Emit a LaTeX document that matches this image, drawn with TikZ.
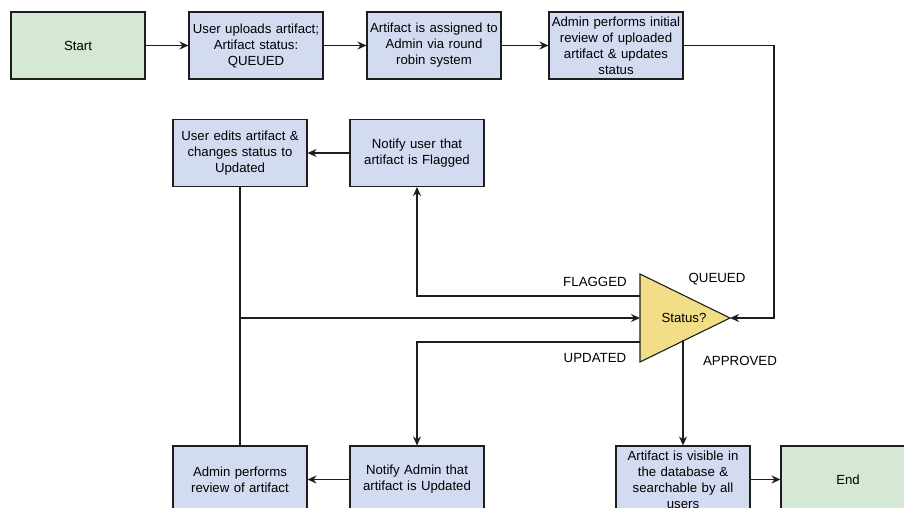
\documentclass[tikz,border=0pt]{standalone}
\usepackage{fontspec}
\setmainfont{Liberation Sans}
\usepackage{tikz}
\usetikzlibrary{positioning, arrows.meta}
\definecolor{boxBlue}{RGB}{211,219,241}
\definecolor{boxGreen}{RGB}{213,232,212}
\definecolor{decYellow}{RGB}{242,222,134}
\definecolor{lineGray}{RGB}{30,30,30}
\tikzstyle{blueRectangle} = [
    rectangle,
    draw=lineGray,
    fill=boxBlue,
    line width=1.1pt,
    text width=134pt,
    align=center,
    minimum height=67pt,
    minimum width=134pt,
    inner sep=0pt,
    font=\fontsize{13.2}{16}\selectfont
    ]
\tikzstyle{greenRectangle} = [
    blueRectangle,
    fill=boxGreen
    ]
\tikzstyle{flowArrow} = [
    draw=lineGray,
    line width=1.3pt,
    -{Stealth[length=9pt,width=8pt]}
    ]
\tikzstyle{flowLine} = [
    draw=lineGray,
    line width=1.3pt
    ]
\tikzstyle{branchLabel} = [
    font=\fontsize{13.3}{16}\selectfont
    ]

\begin{document}
\begin{tikzpicture}[x=1pt, y=-1pt]
      \useasboundingbox (0,0) rectangle (904,508);
      \clip (0,0) rectangle (904,508);
      % top row
      \node[greenRectangle] at (78,45.5) (start) {Start};
      \node[blueRectangle] at (256,45.5) (upload) {User uploads artifact;\\ Artifact status:\\ QUEUED};
      \node[blueRectangle] at (434,45.5) (assign) {Artifact is assigned to\\ Admin via round\\ robin system};
      \node[blueRectangle] at (616,45.5) (review) {Admin performs initial\\ review of uploaded\\ artifact \& updates\\ status};
      % middle row
      \node[blueRectangle] at (240,153) (edit) {User edits artifact \&\\ changes status to\\ Updated};
      \node[blueRectangle] at (417,153) (flag) {Notify user that\\ artifact is Flagged};
      % decision
      \coordinate (tTop) at (640,274);
      \coordinate (tBottom) at (640,362);
      \coordinate (tApex) at (730,318);
      \filldraw[draw=lineGray, fill=decYellow, line width=1.1pt] (tTop) -- (tApex) -- (tBottom) -- cycle;
      \node[font=\fontsize{13.2}{16}\selectfont] at (684,318) (status) {Status?};
      \coordinate (tFlag) at (640,296);
      \coordinate (tLeft) at (640,318);
      \coordinate (tUpd) at (640,342);
      \coordinate (tAppr) at (683,340);
      \coordinate (qCorner) at (774,318);
      \coordinate (join) at (240,318);
      % bottom row
      \node[blueRectangle] at (240,479.5) (areview) {Admin performs\\ review of artifact};
      \node[blueRectangle] at (417,479.5) (notify) {Notify Admin that\\ artifact is Updated};
      \node[blueRectangle] at (683,479.5) (visible) {Artifact is visible in\\ the database \&\\ searchable by all\\ users};
      \node[greenRectangle] at (848,479.5) (finish) {End};
      % connectors
      \draw[flowArrow] (start) -- (upload);
      \draw[flowArrow] (upload) -- (assign);
      \draw[flowArrow] (assign) -- (review);
      \draw[flowArrow] (review.east) -| (qCorner) -- (tApex);
      \draw[flowArrow] (tFlag) -| (flag.south);
      \draw[flowArrow] (flag) -- (edit);
      \draw[flowLine] (edit.south) -- (areview.north);
      \draw[flowArrow] (join) -- (tLeft);
      \draw[flowArrow] (tUpd) -| (notify.north);
      \draw[flowArrow] (notify) -- (areview);
      \draw[flowArrow] (tAppr) -- (visible.north);
      \draw[flowArrow] (visible) -- (finish);
      % branch labels
      \node[branchLabel] at (595,282) (lblFlag) {FLAGGED};
      \node[branchLabel] at (717,279) (lblQueue) {QUEUED};
      \node[branchLabel] at (595,358) (lblUpd) {UPDATED};
      \node[branchLabel] at (740,361) (lblAppr) {APPROVED};
    \end{tikzpicture}
\end{document}
